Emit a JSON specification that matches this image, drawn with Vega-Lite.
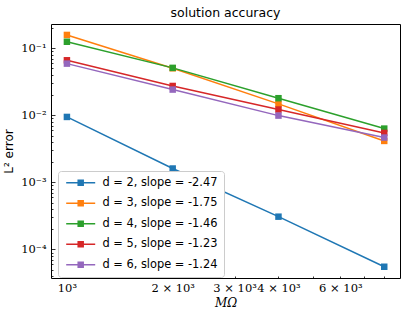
{
  "$schema": "https://vega.github.io/schema/vega-lite/v6.json",
  "width": 349,
  "height": 254,
  "autosize": {"type": "none"},
  "padding": {"left": 51, "top": 24, "right": 8, "bottom": 39},
  "title": {"text": "solution accuracy", "font": "DejaVu Sans", "fontSize": 12.5, "fontWeight": "normal", "color": "#000000", "offset": 5},
  "config": {
    "view": {"stroke": "#000000", "strokeWidth": 1},
    "axis": {"domain": false, "grid": false, "tickColor": "#000000", "tickWidth": 0.8, "labelColor": "#000000", "labelFont": "DejaVu Serif", "labelFontSize": 11.5, "titleColor": "#000000", "titleFontWeight": "normal", "labelOverlap": false, "labelFlush": false}
  },
  "data": {
    "values": [
      {"M": 1000, "err": 0.00946, "label": "d = 2, slope = -2.47"},
      {"M": 2000, "err": 0.00161, "label": "d = 2, slope = -2.47"},
      {"M": 4000, "err": 0.000308, "label": "d = 2, slope = -2.47"},
      {"M": 8000, "err": 0.0000552, "label": "d = 2, slope = -2.47"},
      {"M": 1000, "err": 0.158, "label": "d = 3, slope = -1.75"},
      {"M": 2000, "err": 0.0503, "label": "d = 3, slope = -1.75"},
      {"M": 4000, "err": 0.0148, "label": "d = 3, slope = -1.75"},
      {"M": 8000, "err": 0.00415, "label": "d = 3, slope = -1.75"},
      {"M": 1000, "err": 0.125, "label": "d = 4, slope = -1.46"},
      {"M": 2000, "err": 0.051, "label": "d = 4, slope = -1.46"},
      {"M": 4000, "err": 0.018, "label": "d = 4, slope = -1.46"},
      {"M": 8000, "err": 0.00634, "label": "d = 4, slope = -1.46"},
      {"M": 1000, "err": 0.0662, "label": "d = 5, slope = -1.23"},
      {"M": 2000, "err": 0.0274, "label": "d = 5, slope = -1.23"},
      {"M": 4000, "err": 0.0122, "label": "d = 5, slope = -1.23"},
      {"M": 8000, "err": 0.00546, "label": "d = 5, slope = -1.23"},
      {"M": 1000, "err": 0.059, "label": "d = 6, slope = -1.24"},
      {"M": 2000, "err": 0.0242, "label": "d = 6, slope = -1.24"},
      {"M": 4000, "err": 0.0099, "label": "d = 6, slope = -1.24"},
      {"M": 8000, "err": 0.00466, "label": "d = 6, slope = -1.24"}
    ]
  },
  "layer": [
    {
      "mark": {"type": "line", "strokeWidth": 1.5},
      "encoding": {
        "x": {
          "field": "M", "type": "quantitative",
          "scale": {"type": "log", "domain": [901, 8870], "nice": false},
          "axis": {
            "values": [1000, 2000, 3000, 4000, 5000, 6000, 7000, 8000],
            "tickSize": -2,
            "labelPadding": 6,
            "labelExpr": "datum.value < 1500 ? '10³' : datum.value < 2500 ? '2 × 10³' : datum.value < 3500 ? '3 × 10³' : datum.value < 4500 ? '4 × 10³' : (datum.value > 5500 && datum.value < 6500) ? '6 × 10³' : ''",
            "title": "MΩ",
            "titleFont": "DejaVu Serif",
            "titleFontStyle": "italic",
            "titleFontSize": 12,
            "titlePadding": 4
          }
        },
        "y": {
          "field": "err", "type": "quantitative",
          "scale": {"type": "log", "domain": [0.0000375, 0.23], "nice": false},
          "axis": {
            "values": [0.0001, 0.001, 0.01, 0.1],
            "tickSize": -4,
            "labelPadding": 9,
            "labelExpr": "datum.value > 0.05 ? '10⁻¹' : datum.value > 0.005 ? '10⁻²' : datum.value > 0.0005 ? '10⁻³' : '10⁻⁴'",
            "title": "L² error",
            "titleFont": "DejaVu Sans",
            "titleFontSize": 12,
            "titlePadding": 5
          }
        },
        "color": {
          "field": "label", "type": "nominal",
          "scale": {
            "domain": ["d = 2, slope = -2.47", "d = 3, slope = -1.75", "d = 4, slope = -1.46", "d = 5, slope = -1.23", "d = 6, slope = -1.24"],
            "range": ["#1f77b4", "#ff7f0e", "#2ca02c", "#d62728", "#9467bd"]
          },
          "legend": {
            "title": null,
            "orient": "none",
            "legendX": 7,
            "legendY": 147,
            "padding": 6,
            "fillColor": "#ffffff",
            "strokeColor": "#cccccc",
            "cornerRadius": 3,
            "labelFont": "DejaVu Sans",
            "labelFontSize": 11.4,
            "labelColor": "#000000",
            "rowPadding": 7.5,
            "symbolSize": 42.25,
            "symbolType": "M-4.46,-0.23H4.46V0.23H-4.46Z M-1,-1H1V1H-1Z",
            "symbolOffset": 11,
            "labelOffset": 16,
            "symbolStrokeWidth": 0,
            "encode": {"symbols": {"update": {"fill": {"scale": "color", "field": "value"}, "stroke": {"value": "transparent"}, "opacity": {"value": 1}}}}
          }
        }
      }
    },
    {
      "mark": {"type": "point", "shape": "square", "filled": true, "size": 42, "opacity": 1},
      "encoding": {
        "x": {
          "field": "M", "type": "quantitative",
          "axis": {"orient": "bottom", "values": [1000], "tickSize": -4, "labels": false, "title": null}
        },
        "y": {
          "field": "err", "type": "quantitative",
          "axis": {"orient": "left", "values": [0.00004, 0.00005, 0.00006, 0.00007, 0.00008, 0.00009, 0.0002, 0.0003, 0.0004, 0.0005, 0.0006, 0.0007, 0.0008, 0.0009, 0.002, 0.003, 0.004, 0.005, 0.006, 0.007, 0.008, 0.009, 0.02, 0.03, 0.04, 0.05, 0.06, 0.07, 0.08, 0.09, 0.2], "tickSize": -2, "labels": false, "title": null}
        },
        "color": {"field": "label", "type": "nominal"}
      }
    }
  ],
  "resolve": {"axis": {"x": "independent", "y": "independent"}}
}
